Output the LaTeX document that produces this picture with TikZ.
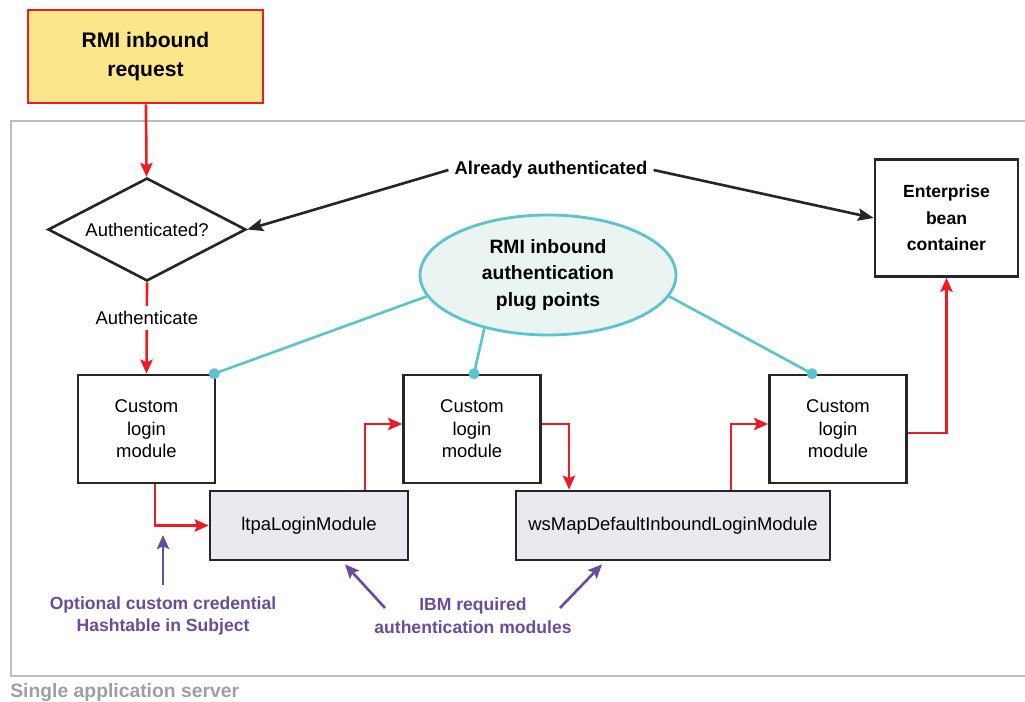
\documentclass[tikz,border=0pt]{standalone}
\usepackage{fontspec}
\setmainfont{Liberation Sans}
\usetikzlibrary{shapes.geometric,arrows.meta}
\definecolor{ibmred}{HTML}{ED1C24}
\definecolor{reqyellow}{HTML}{FCE68A}
\definecolor{framegray}{HTML}{BCBEC0}
\definecolor{labelgray}{HTML}{9D9FA2}
\definecolor{plugcyan}{HTML}{5BC4CF}
\definecolor{plugfill}{HTML}{EAF4F1}
\definecolor{notepurple}{HTML}{6A4C9C}
\definecolor{modgray}{HTML}{E9EAEF}
\tikzset{
  box/.style={draw=black!85, line width=1.5pt, align=center, inner sep=2pt},
  flow/.style={draw=ibmred, line width=1.5pt, -{Stealth[length=8pt,width=7pt,inset=1.5pt]}},
  already/.style={draw=black!85, line width=1.5pt, -{Stealth[length=9pt,width=7pt,inset=1.5pt]}},
  plug/.style={draw=plugcyan, line width=1.5pt},
  note/.style={text=notepurple, align=center, font=\bfseries\fontsize{10}{13}\selectfont},
  notearrow/.style={draw=notepurple, line width=1.5pt, -{Stealth[length=8pt,width=7pt,inset=1.5pt]}}
}
\newcommand{\customnode}[2] {\node at (#1) (#2) [box, minimum width=2.74cm, minimum height=2.16cm, font=\fontsize{10.5}{12.8}\selectfont] {Custom\\login\\module};}
\newcommand{\ibmnode}[4] {\node at (#1) (#2) [box, fill=modgray, minimum width=#3, minimum height=1.38cm, font=\fontsize{10.5}{12}\selectfont] {#4};}
\newcommand{\flowstep}[2] {\draw [flow] (#1) |- (#2);}
\newcommand{\flowturn}[2] {\draw [flow] (#1) -| (#2);}
\newcommand{\plugline}[2] {\draw [plug] (plug.#1) -- (#2); \fill [plugcyan] (#2) circle (0.11cm);}

\begin{document}
\begin{tikzpicture}[x=0.02cm, y=-0.02cm]
\useasboundingbox (0,0) rectangle (1025,702);

\draw [framegray, line width=1.6pt] (1026,121) -| (11,676) -- (1026,676);
\node at (10,693) (server) [anchor=west, inner sep=0pt, text=labelgray, font=\bfseries\fontsize{11}{13}\selectfont] {Single application server};

\node at (145.5,56.5) (request) [box, draw=ibmred, fill=reqyellow, minimum width=4.7cm, minimum height=1.86cm, font=\bfseries\fontsize{12}{17}\selectfont] {RMI inbound\\request};
\node at (147,229.5) (auth) [diamond, aspect=2, draw=black!85, line width=1.5pt, inner sep=0pt, minimum width=3.96cm, minimum height=2.06cm, font=\fontsize{10.5}{12}\selectfont] {Authenticated?};
\node at (946.5,218) (ejb) [box, minimum width=2.86cm, minimum height=2.34cm, font=\bfseries\fontsize{10}{15}\selectfont] {Enterprise\\bean\\container};
\node at (548,275) (plug) [ellipse, draw=plugcyan, fill=plugfill, line width=1.6pt, minimum width=5.12cm, minimum height=2.4cm, align=center, font=\bfseries\fontsize{11}{15}\selectfont] {RMI inbound\\authentication\\plug points};
\node at (551,170) (already) [font=\bfseries\fontsize{10.5}{12}\selectfont] {Already authenticated};

\customnode {146.5,429}{custom1};
\customnode {472,429}{custom2};
\customnode {838,429}{custom3};
\ibmnode {309,525.5}{ltpa}{3.96cm}{ltpaLoginModule};
\ibmnode {673,525.5}{wsmap}{6.28cm}{wsMapDefaultInboundLoginModule};

\draw [flow] (request) -- (auth);
\draw [flow] (auth.south) -- (custom1.north) node [pos=0.39, fill=white, inner sep=3pt, font=\fontsize{10.5}{12}\selectfont] (authlabel) {Authenticate};
\flowstep {[xshift=0.17cm]custom1.south}{ltpa.west};
\flowstep {[xshift=1.12cm]ltpa.north}{[yshift=0.1cm]custom2.west};
\flowturn {[yshift=0.1cm]custom2.east}{[xshift=-2.08cm]wsmap.north};
\flowstep {[xshift=1.16cm]wsmap.north}{[yshift=0.1cm]custom3.west};
\flowturn {[yshift=-0.08cm]custom3.east}{ejb.south};

\draw [already] (already.west) -- (auth.east);
\draw [already] (already.east) -- (ejb.west);

\plugline {190}{[xshift=-0.04cm]custom1.north east};
\plugline {220}{[xshift=0.04cm]custom2.north};
\plugline {350}{[xshift=-0.52cm]custom3.north};

\node at (163,616) (credential) [note] {Optional custom credential\\Hashtable in Subject};
\node at (473,616) (required) [note] {IBM required\\authentication modules};
\coordinate (credtip) at (163,535);
\draw [notearrow] ([yshift=0.62cm]credential.center) -- (credtip);
\draw [notearrow] ([xshift=-1.76cm,yshift=0.16cm]required.center) -- ([xshift=0.72cm,yshift=-0.06cm]ltpa.south);
\draw [notearrow] ([xshift=1.74cm,yshift=0.16cm]required.center) -- ([xshift=-1.42cm,yshift=-0.06cm]wsmap.south);
\end{tikzpicture}
\end{document}
